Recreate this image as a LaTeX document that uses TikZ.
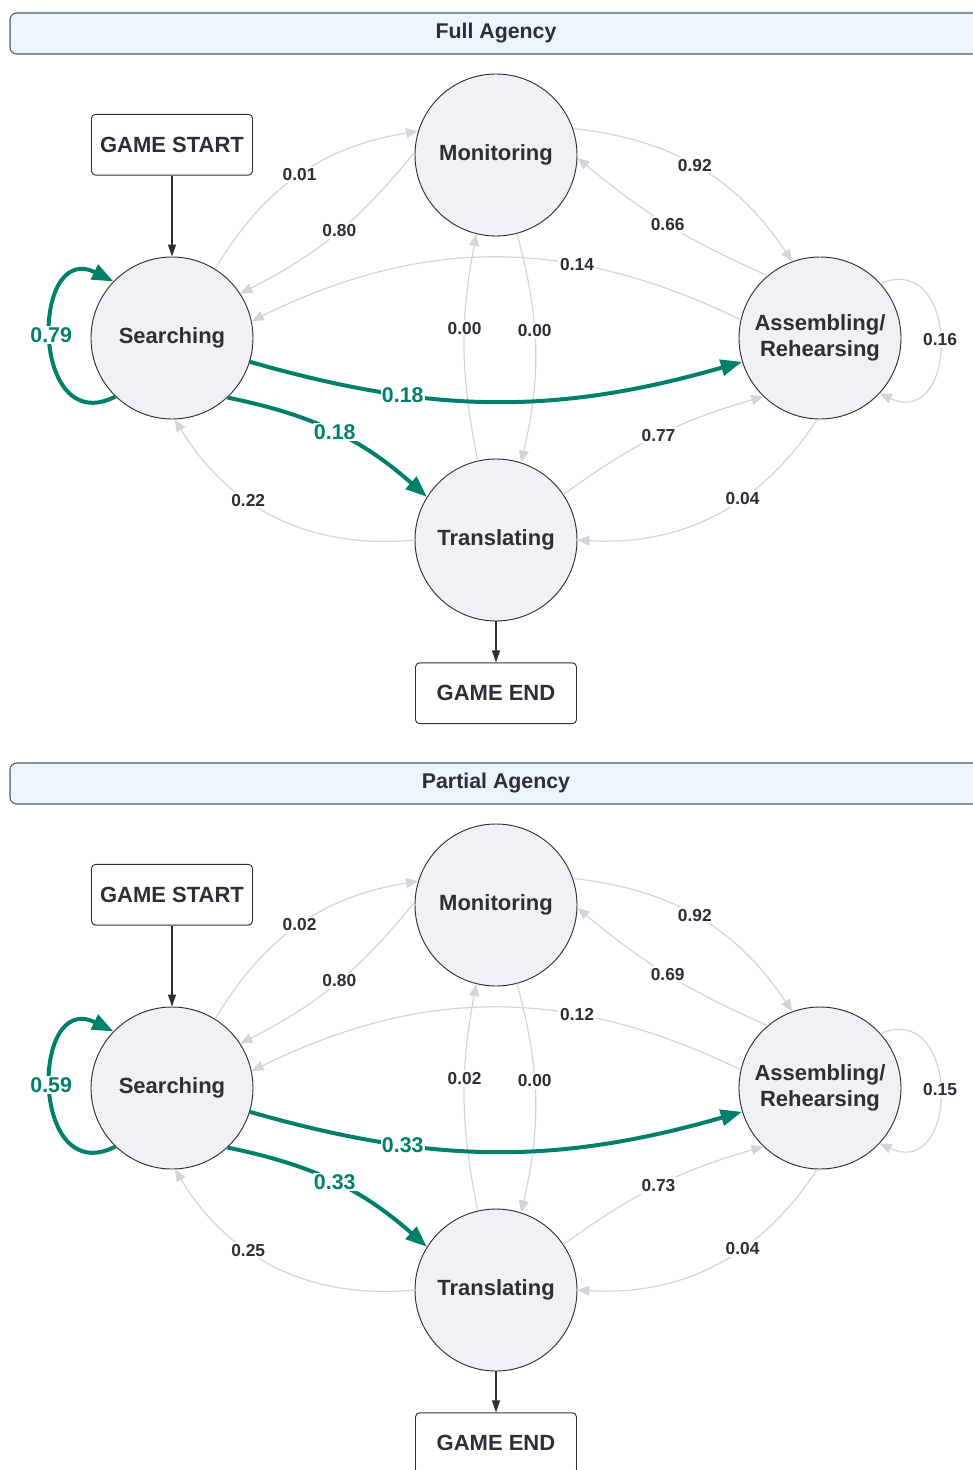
\documentclass[tikz,border=0pt]{standalone}
\usepackage{fontspec}
\setmainfont{Liberation Sans}
\usetikzlibrary{arrows.meta, positioning}
\definecolor{edgegray}{RGB}{210,212,218}
\definecolor{statefill}{RGB}{240,241,244}
\definecolor{hotgreen}{RGB}{0,128,106}
\definecolor{headbg}{RGB}{236,244,254}
\definecolor{inkdark}{RGB}{45,47,54}

\begin{document}
\begin{tikzpicture}[
  x=0.75pt, y=-0.75pt,
  state/.style={circle, draw=inkdark, line width=0.7pt, fill=statefill, minimum size=121.5pt, inner sep=0pt, align=center, text=inkdark, font=\bfseries\fontsize{16.5}{20}\selectfont},
  endbox/.style={draw=inkdark, line width=0.7pt, rounded corners=3pt, minimum width=120.75pt, minimum height=45.5pt, text=inkdark, font=\bfseries\fontsize{16.5}{20}\selectfont},
  header/.style={draw=inkdark!80, line width=0.8pt, fill=headbg, rounded corners=5pt, minimum width=729pt, minimum height=30.75pt, text=inkdark, font=\bfseries\fontsize{16}{19}\selectfont},
  flow/.style={draw=inkdark, line width=0.8pt, -{Triangle[length=9pt, width=6pt]}},
  faint/.style={draw=edgegray, line width=0.9pt, -{Triangle[length=9pt, width=7.5pt]}},
  hot/.style={draw=hotgreen, line width=3pt, -{Triangle[length=16pt, width=12pt]}},
  prob/.style={fill=white, inner sep=1.5pt, text=inkdark, font=\bfseries\fontsize{13}{15}\selectfont},
  hotprob/.style={fill=white, inner sep=1pt, text=hotgreen, font=\bfseries\fontsize{16}{18}\selectfont}
]
  \useasboundingbox (0,0) rectangle (972,1470);

  % Full Agency
  \node[header] (head1) at (496,33.5) {Full Agency};
  \node[state] (s1) at (172,338) {Searching};
  \node[state] (m1) at (496,155) {Monitoring};
  \node[state] (a1) at (820,338) {Assembling/\\Rehearsing};
  \node[state] (t1) at (496,540) {Translating};
  \node[endbox, above=60.75pt of s1] (start1) {GAME START};
  \node[endbox, below=30.75pt of t1] (end1) {GAME END};

  \draw[flow] (start1) -- (s1);
  \draw[flow] (t1) -- (end1);

  \draw[faint] (s1.58) to[bend left=25] node[prob, pos=0.5] {0.01} (m1.163);
  \draw[faint] (m1.178) to[bend left=12] node[prob, pos=0.48] {0.80} (s1.33);
  \draw[faint] (a1.167) to[bend right=26] node[prob, pos=0.33] {0.14} (s1.12);
  \draw[faint] (m1.19) to[bend left=25] node[prob, pos=0.48] {0.92} (a1.110);
  \draw[faint] (a1.130) to[bend left=8] node[prob, pos=0.5] {0.66} (m1.-2);
  \draw[faint] (a1.42) .. controls (960,250) and (960,430) .. node[prob, pos=0.5] {0.16} (a1.-43);
  \draw[faint] (t1.103) to[bend left=11] node[prob, pos=0.59] {0.00} (m1.-104);
  \draw[faint] (m1.-75) to[bend left=14] node[prob, pos=0.42] {0.00} (t1.72);
  \draw[faint] (t1.34) to[bend left=10] node[prob, pos=0.5] {0.77} (a1.226);
  \draw[faint] (a1.-92) to[bend left=30] node[prob, pos=0.38] {0.04} (t1.0);
  \draw[faint] (t1.180) to[bend left=32] node[prob, pos=0.62] {0.22} (s1.-88);

  \draw[hot] (s1.226) .. controls (30,440) and (30,240) .. node[hotprob, pos=0.52] {0.79} (s1.136);
  \draw[hot] (s1.-17) to[bend right=16] node[hotprob, pos=0.3] {0.18} (a1.197);
  \draw[hot] (s1.-47) to[bend left=15] node[hotprob, pos=0.5] {0.18} (t1.148);

  % Partial Agency
  \begin{scope}[shift={(0,750)}]
    \node[header] (head2) at (496,33.5) {Partial Agency};
    \node[state] (s2) at (172,338) {Searching};
    \node[state] (m2) at (496,155) {Monitoring};
    \node[state] (a2) at (820,338) {Assembling/\\Rehearsing};
    \node[state] (t2) at (496,540) {Translating};
    \node[endbox, above=60.75pt of s2] (start2) {GAME START};
    \node[endbox, below=30.75pt of t2] (end2) {GAME END};

    \draw[flow] (start2) -- (s2);
    \draw[flow] (t2) -- (end2);

    \draw[faint] (s2.58) to[bend left=25] node[prob, pos=0.5] {0.02} (m2.163);
    \draw[faint] (m2.178) to[bend left=12] node[prob, pos=0.48] {0.80} (s2.33);
    \draw[faint] (a2.167) to[bend right=26] node[prob, pos=0.33] {0.12} (s2.12);
    \draw[faint] (m2.19) to[bend left=25] node[prob, pos=0.48] {0.92} (a2.110);
    \draw[faint] (a2.130) to[bend left=8] node[prob, pos=0.5] {0.69} (m2.-2);
    \draw[faint] (a2.42) .. controls (960,250) and (960,430) .. node[prob, pos=0.5] {0.15} (a2.-43);
    \draw[faint] (t2.103) to[bend left=11] node[prob, pos=0.59] {0.02} (m2.-104);
    \draw[faint] (m2.-75) to[bend left=14] node[prob, pos=0.42] {0.00} (t2.72);
    \draw[faint] (t2.34) to[bend left=10] node[prob, pos=0.5] {0.73} (a2.226);
    \draw[faint] (a2.-92) to[bend left=30] node[prob, pos=0.38] {0.04} (t2.0);
    \draw[faint] (t2.180) to[bend left=32] node[prob, pos=0.62] {0.25} (s2.-88);

    \draw[hot] (s2.226) .. controls (30,440) and (30,240) .. node[hotprob, pos=0.52] {0.59} (s2.136);
    \draw[hot] (s2.-17) to[bend right=16] node[hotprob, pos=0.3] {0.33} (a2.197);
    \draw[hot] (s2.-47) to[bend left=15] node[hotprob, pos=0.5] {0.33} (t2.148);
  \end{scope}
\end{tikzpicture}
\end{document}
